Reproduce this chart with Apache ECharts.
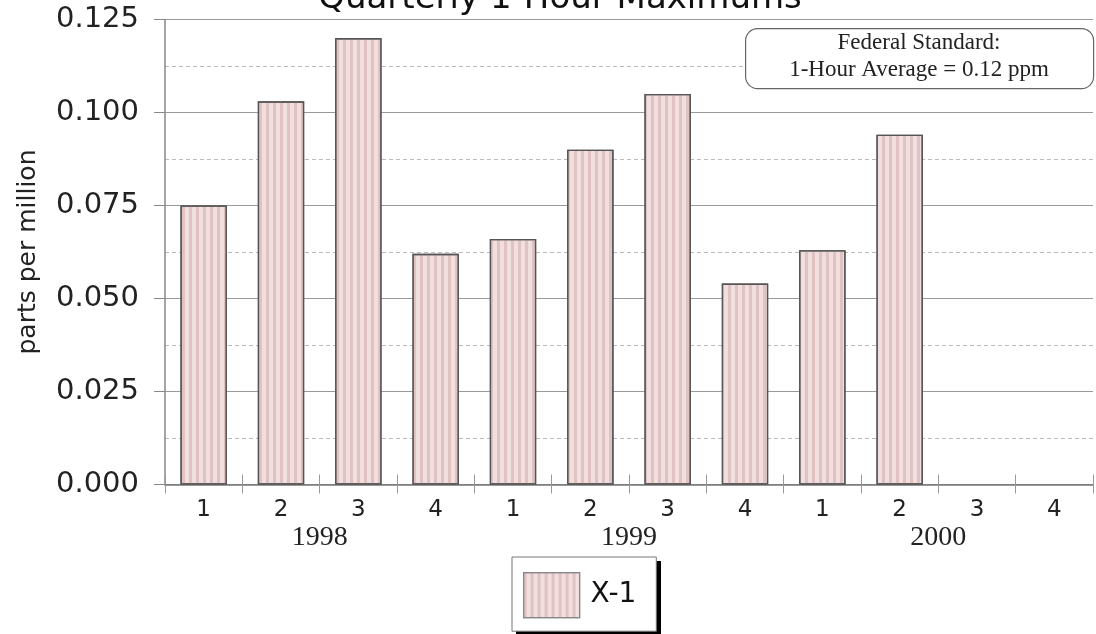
<!DOCTYPE html>
<html><head><meta charset="utf-8">
<script src="https://cdn.jsdelivr.net/npm/echarts@6/dist/echarts.min.js"></script>
<style>html,body{margin:0;padding:0;background:#fff}#c{width:1096px;height:634px}</style>
</head><body><div id="c"></div>
<script>
const quarters = ['1','2','3','4','1','2','3','4','1','2','3','4'];
const values = [0.075, 0.103, 0.120, 0.062, 0.066, 0.090, 0.105, 0.054, 0.063, 0.094, null, null];
const years = ['1998','1999','2000'];
const yearSlots = [4, 12, 20];
const seriesName = 'X-1';
const titleText = 'Quarterly 1-Hour Maximums';
const yAxisName = 'parts per million';
const noteLines = ['Federal Standard:', '1-Hour Average = 0.12 ppm'];

const yearAxisData = [];
for (let i = 0; i <= 24; i++) {
  const k = yearSlots.indexOf(i);
  yearAxisData.push(k >= 0 ? years[k] : '');
}

const chart = echarts.init(document.getElementById('c'));
const grid = {left: 165, top: 19.5, width: 933.6, height: 465, containLabel: false};
chart.setOption({
  animation: false,
  backgroundColor: '#fff',
  title: {
    text: titleText, left: 555, top: -23, textAlign: 'center',
    textStyle: {fontFamily: 'DejaVu Sans', fontSize: 34, fontWeight: 'normal', color: '#111'}
  },
  grid: grid,
  legend: {
    data: [seriesName], left: 512, top: 557,
    orient: 'horizontal',
    padding: [15, 20, 13, 11],
    itemWidth: 56, itemHeight: 45,
    icon: 'rect',
    itemStyle: {borderColor: '#888', borderWidth: 1.2},
    backgroundColor: '#fff', borderColor: '#777', borderWidth: 1,
    textStyle: {fontFamily: 'DejaVu Sans', fontSize: 28, color: '#111', padding: [0, 0, 0, 6]}
  },
  xAxis: [
    {
      type: 'category', data: quarters, gridIndex: 0,
      axisLine: {show: true, lineStyle: {color: '#777', width: 1.5}},
      axisTick: {show: true, length: 9, lineStyle: {color: '#999'}},
      axisLabel: {fontFamily: 'DejaVu Sans', fontSize: 23, color: '#222', margin: 14},
      splitLine: {show: false}
    },
    {
      type: 'category', data: quarters, gridIndex: 0, position: 'bottom',
      axisLine: {show: false},
      axisTick: {show: true, inside: true, length: 10, lineStyle: {color: '#999'}},
      axisLabel: {show: false},
      splitLine: {show: false}
    },
    {
      type: 'category', data: yearAxisData, gridIndex: 0, position: 'bottom', boundaryGap: false,
      axisLine: {show: false}, axisTick: {show: false},
      axisLabel: {interval: 0, fontFamily: 'Liberation Serif', fontSize: 28, color: '#222', margin: 39},
      splitLine: {show: false}
    }
  ],
  yAxis: {
    type: 'value', min: 0, max: 0.125, interval: 0.025,
    name: yAxisName, nameLocation: 'middle', nameGap: 124, nameRotate: 90,
    nameTextStyle: {fontFamily: 'DejaVu Sans', fontSize: 25, color: '#222'},
    axisLine: {show: true, lineStyle: {color: '#888', width: 1.5}},
    axisTick: {show: true, length: 11, lineStyle: {color: '#888'}},
    axisLabel: {fontFamily: 'DejaVu Sans', fontSize: 29, color: '#222', margin: 26,
      formatter: v => v.toFixed(3)},
    splitLine: {show: true, lineStyle: {color: '#999', width: 1.2}},
    minorTick: {show: false, splitNumber: 2},
    minorSplitLine: {show: true, lineStyle: {color: '#bbb', type: [4, 3], width: 1}}
  },
  series: [{
    name: seriesName, type: 'bar', data: values, xAxisIndex: 0,
    barWidth: '60%',
    itemStyle: {
      color: '#f1dede', borderColor: '#555', borderWidth: 1.3,
      decal: {symbol: 'rect', symbolSize: 1, dashArrayX: [3, 4], dashArrayY: [10, 0],
        color: 'rgba(205,160,160,0.45)', rotation: 0}
    }
  }],
  graphic: [
    {type: 'rect', z: 1, left: 516, top: 561, shape: {width: 145, height: 76},
      style: {fill: '#000'}},
    {type: 'rect', z: 100, left: 745, top: 28, shape: {x: 0, y: 0, width: 348, height: 60, r: 12},
      style: {fill: '#fff', stroke: '#666', lineWidth: 1.2}},
    {type: 'text', z: 101, x: 919, y: 43,
      style: {text: noteLines[0], fontFamily: 'Liberation Serif', fontSize: 23, fill: '#222',
        textAlign: 'center', textVerticalAlign: 'middle'}},
    {type: 'text', z: 101, x: 919, y: 70,
      style: {text: noteLines[1], fontFamily: 'Liberation Serif', fontSize: 23, fill: '#222',
        textAlign: 'center', textVerticalAlign: 'middle'}}
  ]
});
</script></body></html>
